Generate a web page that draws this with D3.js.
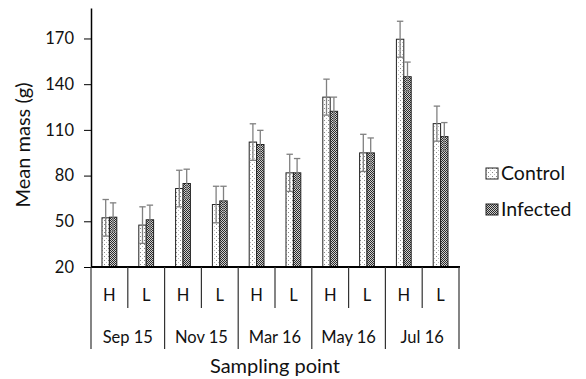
<!DOCTYPE html>
<html><head><meta charset="utf-8">
<script src="https://cdn.jsdelivr.net/npm/d3@7"></script>
<style>body{margin:0;background:#fff}svg{display:block}text{font-family:Lato,"Open Sans",sans-serif;fill:#111}</style>
</head><body><svg id="c" width="586" height="379"></svg>
<script>
const months = ["Sep 15","Nov 15","Mar 16","May 16","Jul 16"];
const levels = ["H","L"];
const series = ["Control","Infected"];
const controlMean = [52.3,47.5,71.5,61,102,81.8,131.5,94.9,169.5,114.1];
const controlErr  = [12,12,12,12,12,12.2,11.8,12.2,11.8,11.5];
const infectedMean = [52.7,51,74.8,63.4,100.4,81.8,122.2,94.9,144.9,105.6];
const infectedErr  = [9.4,9.6,9.4,9.6,9.3,9.4,9.3,9.8,9.6,9.2];
const yTicks = [20,50,80,110,140,170];

const svg = d3.select("#c");
const defs = svg.append("defs");
const pc = defs.append("pattern").attr("id","pc").attr("patternUnits","userSpaceOnUse").attr("width",4).attr("height",4);
pc.append("rect").attr("width",4).attr("height",4).attr("fill","#fff");
pc.append("rect").attr("x",0).attr("y",0).attr("width",1).attr("height",1).attr("fill","#888");
pc.append("rect").attr("x",2).attr("y",2).attr("width",1).attr("height",1).attr("fill","#bbb");
const pi = defs.append("pattern").attr("id","pi").attr("patternUnits","userSpaceOnUse").attr("width",2).attr("height",2);
pi.append("rect").attr("width",2).attr("height",2).attr("fill","#d0d0d0");
pi.append("rect").attr("x",0).attr("y",0).attr("width",1).attr("height",1).attr("fill","#2a2a2a");
pi.append("rect").attr("x",1).attr("y",1).attr("width",1).attr("height",1).attr("fill","#2a2a2a");

const x0 = 91, x1 = 459, yTop = 8, yBot = 267;
const cats = d3.range(10);
const x = d3.scaleBand().domain(cats).range([x0,x1]).paddingInner(0).paddingOuter(0);
const y = d3.scaleLinear().domain([20,190]).range([yBot,yTop]);
const bw = 7.4;

const data = [];
cats.forEach(i=>{
  data.push({i,s:0,v:controlMean[i],e:controlErr[i]});
  data.push({i,s:1,v:infectedMean[i],e:infectedErr[i]});
});
const g = svg.append("g");
g.selectAll("rect.bar").data(data).enter().append("rect")
  .attr("x",d=>x(d.i)+x.bandwidth()/2 - bw + d.s*bw)
  .attr("y",d=>y(d.v)).attr("width",bw).attr("height",d=>y(20)-y(d.v))
  .attr("fill",d=>d.s? "url(#pi)":"url(#pc)").attr("stroke","#222").attr("stroke-width",1);
const eb = g.selectAll("g.eb").data(data).enter().append("g").attr("stroke","#808080").attr("stroke-width",1.3);
eb.append("line").attr("x1",d=>x(d.i)+x.bandwidth()/2 - bw/2 + d.s*bw).attr("x2",d=>x(d.i)+x.bandwidth()/2 - bw/2 + d.s*bw)
  .attr("y1",d=>y(d.v-d.e)).attr("y2",d=>y(d.v+d.e));
eb.append("line").attr("x1",d=>x(d.i)+x.bandwidth()/2 - bw + d.s*bw+0.5).attr("x2",d=>x(d.i)+x.bandwidth()/2 + d.s*bw-0.5)
  .attr("y1",d=>y(d.v+d.e)).attr("y2",d=>y(d.v+d.e));
eb.append("line").attr("x1",d=>x(d.i)+x.bandwidth()/2 - bw + d.s*bw+0.5).attr("x2",d=>x(d.i)+x.bandwidth()/2 + d.s*bw-0.5)
  .attr("y1",d=>y(d.v-d.e)).attr("y2",d=>y(d.v-d.e));

const ya = svg.append("g").attr("transform",`translate(${x0},0)`)
  .call(d3.axisLeft(y).tickValues(yTicks).tickSize(7).tickSizeOuter(0).tickPadding(10));
ya.select(".domain").attr("stroke","#000").attr("stroke-width",1.5);
ya.selectAll(".tick line").attr("stroke","#000");
ya.selectAll(".tick text").attr("font-size",16.5).attr("font-family","Lato,'Open Sans',sans-serif").attr("fill","#111");

svg.append("line").attr("x1",x0).attr("x2",x1+1).attr("y1",yBot).attr("y2",yBot).attr("stroke","#000").attr("stroke-width",2.2);
d3.range(11).forEach(k=>{
  const xx = k<10 ? x(k) : x1;
  svg.append("line").attr("x1",xx).attr("x2",xx).attr("y1",yBot).attr("y2", k%2===0 ? 349 : 308)
    .attr("stroke","#333").attr("stroke-width",1.2);
});
svg.selectAll("text.lv").data(cats).enter().append("text")
  .attr("x",d=>x(d)+x.bandwidth()/2).attr("y",301).attr("text-anchor","middle").attr("font-size",16.5)
  .text(d=>levels[d%2]);
svg.selectAll("text.mo").data(months).enter().append("text")
  .attr("x",(d,j)=>x(j*2)+x.bandwidth()).attr("y",343).attr("text-anchor","middle").attr("font-size",16.5)
  .text(d=>d);
svg.append("text").attr("x",(x0+x1)/2).attr("y",373).attr("text-anchor","middle").attr("font-size",20).text("Sampling point");
svg.append("text").attr("transform","translate(30,145) rotate(-90)").attr("text-anchor","middle").attr("font-size",20).text("Mean mass (g)");

const lg = svg.append("g");
series.forEach((s,j)=>{
  const yy = 168 + j*36;
  lg.append("rect").attr("x",486).attr("y",yy).attr("width",12).attr("height",11)
    .attr("fill", j? "url(#pi)":"url(#pc)").attr("stroke","#222");
  lg.append("text").attr("x",501).attr("y",yy+12).attr("font-size",19.5).text(s);
});
</script></body></html>
